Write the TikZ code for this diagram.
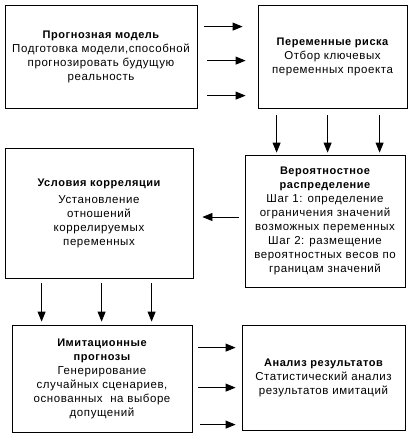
\documentclass[tikz,border=0pt]{standalone}
\usepackage{fontspec}
\setmainfont[LetterSpace=5]{Liberation Sans}
\usetikzlibrary{arrows.meta, calc}
\newcommand{\boxtitle}[1]{{\fontsize{11}{14}\selectfont\bfseries #1}}

\begin{document}
\begin{tikzpicture}[x=1pt, y=-1pt,
    box/.style={draw, line width=0.8pt, align=center, inner sep=0pt, font=\fontsize{11.5}{14}\selectfont},
    arr/.style={-{Triangle[length=10pt, width=8pt]}, line width=0.8pt}]
    \useasboundingbox (0,0) rectangle (413,448);
        \node (model) [box, minimum width=192pt, minimum height=103pt] at (101, 56.5) {\boxtitle{Прогнозная модель}\\Подготовка модели,способной\\прогнозировать будущую\\реальность};
        \node (risk) [box, minimum width=149pt, minimum height=103pt] at (332.5, 56.5) {\boxtitle{Переменные риска}\\Отбор ключевых\\переменных проекта};
        \node (prob) [box, minimum width=160pt, minimum height=132pt] at (325, 221) {\boxtitle{Вероятностное}\\\boxtitle{распределение}\\Шаг 1: определение\\ограничения значений\\возможных переменных\\Шаг 2: размещение\\вероятностных весов по\\границам значений};
        \node (corr) [box, minimum width=188pt, minimum height=130pt] at (99, 213) {\boxtitle{Условия корреляции}\\[3pt]Установление\\отношений\\коррелируемых\\переменных};
        \node (sim) [box, minimum width=180pt, minimum height=107pt] at (102, 378.5) {\boxtitle{Имитационные}\\\boxtitle{прогнозы}\\Генерирование\\случайных сценариев,\\основанных\ \ на выборе\\допущений};
        \node (res) [box, minimum width=163pt, minimum height=105pt] at (323.5, 377.5) {\boxtitle{Анализ результатов}\\Статистический анализ\\результатов имитаций};
        % model -> risk
        \draw[arr] ($(model.north east)+(7,22)$) -- ($(risk.north west)+(-15,22)$);
        \draw[arr] ($(model.north east)+(10,56)$) -- ($(risk.north west)+(-12,56)$);
        \draw[arr] ($(model.north east)+(10,91)$) -- ($(risk.north west)+(-12,91)$);
        % risk -> prob
        \foreach \dx in {19, 70, 122}
            \draw[arr] ($(risk.south west)+(\dx,7)$) -- ($(prob.north west)+(\dx+13,-2)$);
        % prob -> corr
        \draw[arr] ($(prob.west)+(-6,-4)$) -- ($(corr.east)+(9,4)$);
        % corr -> sim
        \foreach \dx in {37, 97, 147}
            \draw[arr] ($(corr.south west)+(\dx,5)$) -- ($(sim.north west)+(\dx-7,-3)$);
        % sim -> res
        \draw[arr] ($(sim.north east)+(6,23)$) -- ($(res.north west)+(-6,23)$);
        \draw[arr] ($(sim.north east)+(6,63)$) -- ($(res.north west)+(-6,63)$);
        \draw[arr] ($(sim.north east)+(8,100)$) -- ($(res.north west)+(-6,100)$);
    \end{tikzpicture}
\end{document}
